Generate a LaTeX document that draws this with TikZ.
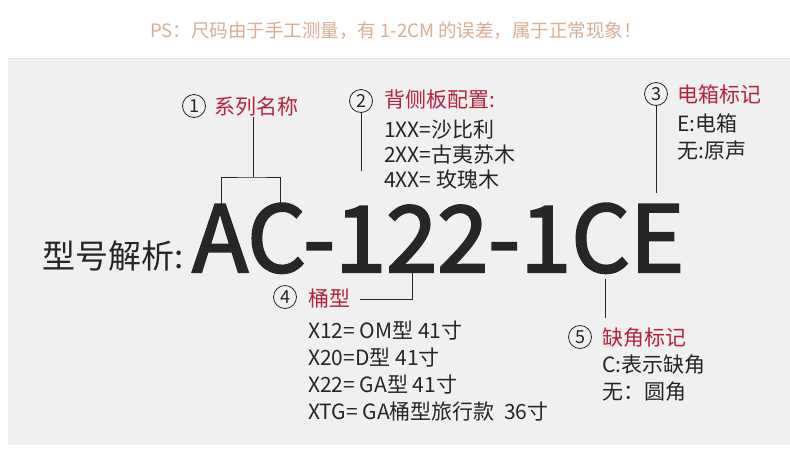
\documentclass[tikz,border=0pt]{standalone}
\usepackage{fontspec}
\setmainfont{Noto Sans CJK SC}
\newfontfamily\modelfont[FakeBold=2.4]{Noto Sans CJK SC}
\definecolor{panelgray}{HTML}{F0F0F0}
\definecolor{panelline}{HTML}{E4E4E4}
\definecolor{labelred}{HTML}{B8223F}
\definecolor{bodydark}{HTML}{262626}
\definecolor{notetan}{HTML}{D9AE92}
\tikzset{
  body/.style={anchor=base west, inner sep=0pt, text=bodydark,
               font=\fontsize{21}{21}\selectfont},
  partlabel/.style={body, text=labelred},
  partnum/.style={circle, draw=bodydark, line width=0.8pt, inner sep=0pt,
                  minimum size=23pt, text=bodydark,
                  font=\fontsize{18}{18}\selectfont},
  leader/.style={draw=bodydark, line width=0.9pt},
}
\begin{document}
\begin{tikzpicture}[x=1pt, y=-1pt]
    \useasboundingbox (0,0) rectangle (790,451);
    \fill[white] (0,0) rectangle (790,451);
    \fill[panelgray] (8,58) rectangle (790,445);
    \draw[panelline] (8,58) -- (790,58);
    \node[anchor=base, inner sep=0pt, text=notetan, font=\fontsize{18.5}{18.5}\selectfont] (note) at (396,37) {PS：尺码由于手工测量，有 1-2CM 的误差，属于正常现象！};
    % model number
    \node[body, font=\fontsize{33}{33}\selectfont] (title) at (42,268) {型号解析:};
    \node[body, font=\modelfont\fontsize{92}{92}\selectfont] (code) at (192,272) {AC-122-1CE};
    % 1 series name
    \node[partnum] (n1) at (194,106) {1};
    \node[partlabel] (l1) at (214,114) {系列名称};
    \coordinate (b1) at (253,117);
    \coordinate (b1m) at (253,177);
    \coordinate (b1a) at (221,204);
    \coordinate (b1c) at (280,204);
    \draw[leader] (b1) -- (b1m);
    \draw[leader] (b1a) |- (b1m) -| (b1c);
    % 2 back and sides
    \node[partnum] (n2) at (361,101) {2};
    \node[partlabel] (l2) at (384,107) {背侧板配置:};
    \node[body] (l2a) at (384,137) {1XX=沙比利};
    \node[body] (l2b) at (384,162) {2XX=古夷苏木};
    \node[body] (l2c) at (384,187) {4XX= 玫瑰木};
    \coordinate (t2) at (361,113);
    \coordinate (e2) at (361,171);
    \draw[leader] (t2) -- (e2);
    % 3 pickup
    \node[partnum] (n3) at (656,94) {3};
    \node[partlabel] (l3) at (677,102) {电箱标记};
    \node[body] (l3a) at (677,131) {E:电箱};
    \node[body] (l3b) at (677,158) {无:原声};
    \coordinate (t3) at (656,106);
    \coordinate (e3) at (656,193);
    \draw[leader] (t3) -- (e3);
    % 4 body shape
    \node[partnum] (n4) at (285,297) {4};
    \node[partlabel] (l4) at (308,306) {桶型};
    \node[body] (l4a) at (308,338) {X12= OM型 41寸};
    \node[body] (l4b) at (308,365) {X20=D型 41寸};
    \node[body] (l4c) at (308,392) {X22= GA型 41寸};
    \node[body] (l4d) at (308,419) {XTG= GA桶型旅行款 \ 36寸};
    \coordinate (t4) at (360,299);
    \coordinate (e4) at (412,270);
    \draw[leader] (t4) -| (e4);
    % 5 cutaway
    \node[partnum] (n5) at (580,337) {5};
    \node[partlabel] (l5) at (602,345) {缺角标记};
    \node[body] (l5a) at (602,372) {C:表示缺角};
    \node[body] (l5b) at (602,399) {无：圆角};
    \coordinate (t5) at (605,279);
    \coordinate (e5) at (605,318);
    \draw[leader] (t5) -- (e5);
\end{tikzpicture}
\end{document}
